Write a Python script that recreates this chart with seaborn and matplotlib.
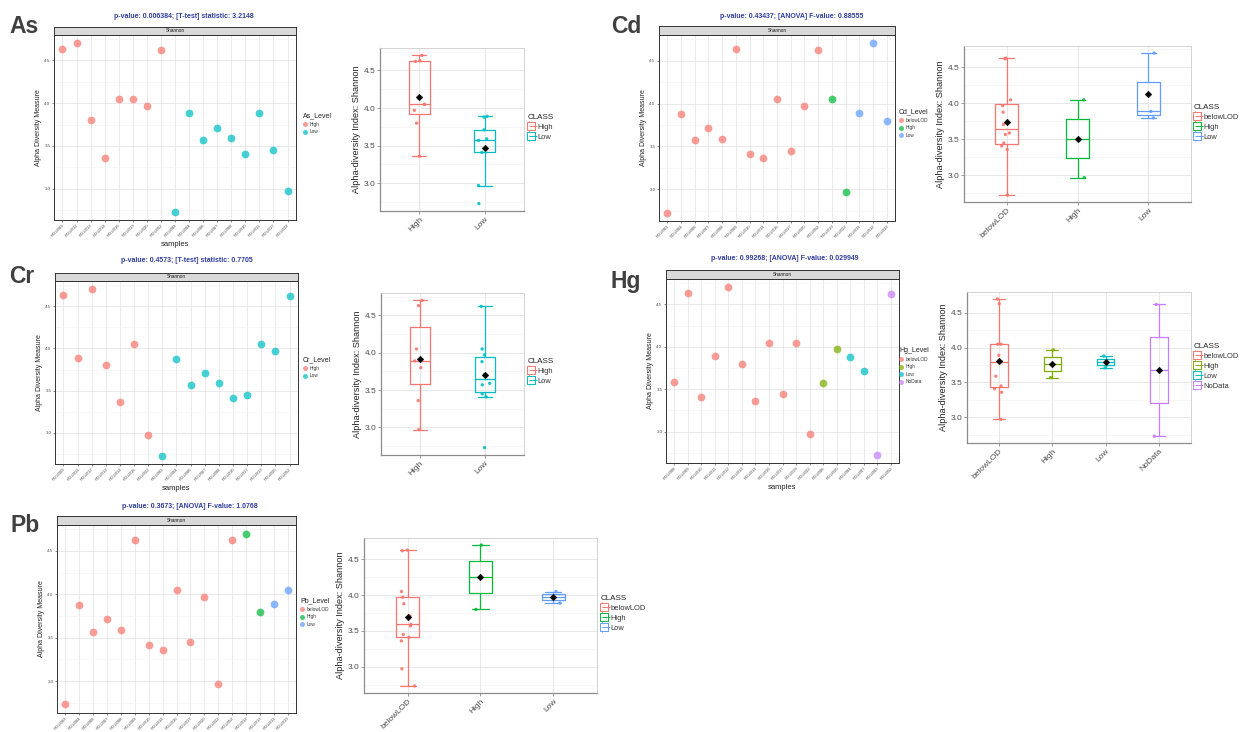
import numpy as np
import pandas as pd
import matplotlib
matplotlib.use("Agg")
import matplotlib.pyplot as plt
from matplotlib.lines import Line2D
from matplotlib.legend_handler import HandlerTuple
from matplotlib.ticker import FixedLocator
import seaborn as sns

sns.set_theme(style="whitegrid")
plt.rcParams["font.family"] = ["Liberation Sans", "DejaVu Sans"]

# ---------------- data ----------------
samples = ["RGU003", "RGU004", "RGU006", "RGU007", "RGU008", "RGU009", "RGU010",
           "RGU011", "RGU012", "RGU013", "RGU014", "RGU016", "RGU017", "RGU019",
           "RGU020", "RGU022", "RGU052"]
shannon = [2.73, 3.88, 3.57, 3.71, 3.59, 4.63, 3.41, 3.89, 4.70, 3.80,
           3.36, 4.05, 3.45, 4.05, 3.97, 2.97, 4.62]

as_level = ["Low", "Low", "Low", "Low", "Low", "High", "Low", "Low", "High", "High",
            "High", "High", "Low", "High", "High", "Low", "High"]
cd_level = ["belowLOD", "belowLOD", "belowLOD", "belowLOD", "belowLOD", "belowLOD",
            "belowLOD", "Low", "Low", "Low", "belowLOD", "belowLOD", "belowLOD",
            "High", "belowLOD", "High", "belowLOD"]
cr_level = ["Low", "Low", "Low", "Low", "Low", "High", "Low", "High", "High", "High",
            "High", "High", "Low", "Low", "Low", "High", "Low"]
hg_level = ["NoData", "Low", "High", "Low", "belowLOD", "belowLOD", "belowLOD",
            "belowLOD", "belowLOD", "belowLOD", "belowLOD", "belowLOD", "belowLOD",
            "belowLOD", "High", "belowLOD", "NoData"]
pb_level = ["belowLOD", "belowLOD", "belowLOD", "belowLOD", "belowLOD", "belowLOD",
            "belowLOD", "Low", "High", "High", "belowLOD", "belowLOD", "belowLOD",
            "Low", "belowLOD", "belowLOD", "belowLOD"]

order2 = ["High", "Low"]
order3 = ["belowLOD", "High", "Low"]
order4 = ["belowLOD", "High", "Low", "NoData"]

pal2 = ["#F8766D", "#00BFC4"]
pal3 = ["#F8766D", "#00BA38", "#619CFF"]
pal4 = ["#F8766D", "#7CAE00", "#00BFC4", "#C77CFF"]

as_title = "p-value: 0.006384; [T-test] statistic: 3.2148"
cd_title = "p-value: 0.43437; [ANOVA] F-value: 0.88555"
cr_title = "p-value: 0.4573; [T-test] statistic: 0.7705"
hg_title = "p-value: 0.99268; [ANOVA] F-value: 0.029949"
pb_title = "p-value: 0.3673; [ANOVA] F-value: 1.0768"

y_ticks = [3.0, 3.5, 4.0, 4.5]
y_minor = [2.75, 3.25, 3.75, 4.25, 4.75]

# ---------------- layout (pixels) ----------------
W, H = 1240, 732
fig = plt.figure(figsize=(W / 100, H / 100), dpi=100)
fig.patch.set_facecolor("white")


def frame(x0, y0, x1, y1):
    return [x0 / W, 1 - y1 / H, (x1 - x0) / W, (y1 - y0) / H]


panels = [
    dict(name="As", levels=as_level, order=order2, pal=pal2, title=as_title,
         lab=(9, 33), ttl=(184, 16), sc=(54, 35, 296, 220), strip=27,
         leg=(303, 112), bx=(380, 48, 524, 211), bleg=(528, 114), xlab=True),
    dict(name="Cd", levels=cd_level, order=order3, pal=pal3, title=cd_title,
         lab=(611, 33), ttl=(792, 16), sc=(659, 35, 895, 221), strip=26,
         leg=(899, 108), bx=(964, 46, 1191, 202), bleg=(1194, 104), xlab=False),
    dict(name="Cr", levels=cr_level, order=order2, pal=pal2, title=cr_title,
         lab=(9, 283), ttl=(187, 261), sc=(55, 281, 298, 464), strip=273,
         leg=(303, 356), bx=(381, 293, 524, 455), bleg=(528, 358), xlab=True),
    dict(name="Hg", levels=hg_level, order=order4, pal=pal4, title=hg_title,
         lab=(610, 288), ttl=(785, 258), sc=(666, 279, 899, 463), strip=270,
         leg=(899, 347), bx=(967, 292, 1191, 443), bleg=(1194, 343), xlab=True),
    dict(name="Pb", levels=pb_level, order=order3, pal=pal3, title=pb_title,
         lab=(11, 532), ttl=(190, 506), sc=(57, 525, 296, 713), strip=516,
         leg=(300, 597), bx=(364, 538, 597, 693), bleg=(601, 595), xlab=False),
]

lo, hi = min(shannon), max(shannon)
pad = (hi - lo) * 0.05
ylim = (lo - pad, hi + pad)

np.random.seed(3)

for p in panels:
    df = pd.DataFrame({"sample": samples, "shannon": shannon, "level": p["levels"]})
    rank = {lv: i for i, lv in enumerate(p["order"])}
    df["rank"] = df["level"].map(rank)
    x_order = df.sort_values("rank", kind="stable")["sample"].tolist()
    colors = dict(zip(p["order"], p["pal"]))

    # --- per-sample scatter ---
    x0, y0, x1, y1 = p["sc"]
    ax = fig.add_axes(frame(x0, y0, x1, y1))
    sns.stripplot(data=df, x="sample", y="shannon", hue="level", order=x_order,
                  hue_order=p["order"], palette=p["pal"], jitter=False, size=5.6,
                  alpha=0.72, linewidth=0, legend=False, ax=ax, zorder=3)
    ax.set_xlim(-0.6, len(x_order) - 0.4)
    ax.set_ylim(*ylim)
    ax.set_facecolor("white")
    ax.yaxis.set_major_locator(FixedLocator(y_ticks))
    ax.yaxis.set_minor_locator(FixedLocator(y_minor))
    ax.set_yticklabels([f"{v:.1f}" for v in y_ticks])
    ax.grid(True, which="major", color="#E6E6E6", lw=0.6)
    ax.grid(True, which="minor", axis="y", color="#F2F2F2", lw=0.4)
    ax.set_axisbelow(True)
    for s in ax.spines.values():
        s.set_color("#333333")
        s.set_linewidth(0.7)
    ax.tick_params(axis="both", which="major", bottom=True, left=True, length=1.5,
                   width=0.4, color="#333333", labelsize=3.2, labelcolor="#4D4D4D", pad=1)
    ax.tick_params(axis="both", which="minor", length=0)
    for lbl in ax.get_xticklabels():
        lbl.set_rotation(45)
        lbl.set_ha("right")
        lbl.set_rotation_mode("anchor")
        lbl.set_fontsize(3.1)
    ax.set_ylabel("Alpha Diversity Measure", fontsize=5, color="#222222", labelpad=2)
    if p["xlab"]:
        ax.set_xlabel("samples", fontsize=5.5, color="#222222", labelpad=2)
    else:
        ax.set_xlabel("")

    # facet strip
    sax = fig.add_axes(frame(x0, p["strip"], x1, y0))
    sax.set_facecolor("#D9D9D9")
    sax.set_xticks([])
    sax.set_yticks([])
    sax.grid(False)
    for s in sax.spines.values():
        s.set_color("#333333")
        s.set_linewidth(0.7)
    sax.text(0.5, 0.5, "Shannon", fontsize=3.4, color="#1A1A1A",
             ha="center", va="center", transform=sax.transAxes)

    # title and element label
    fig.text(p["ttl"][0] / W, 1 - p["ttl"][1] / H, p["title"], fontsize=5.0,
             fontweight="bold", color="#2F3D9C", ha="center", va="center")
    fig.text(p["lab"][0] / W, 1 - p["lab"][1] / H, p["name"], fontsize=16.5,
             fontweight="bold", color="#404040", ha="left", va="baseline")

    # scatter legend
    handles = [Line2D([], [], marker="o", ls="none", markersize=3.6, alpha=0.72,
                      markerfacecolor=colors[lv], markeredgewidth=0) for lv in p["order"]]
    lg = fig.legend(handles, p["order"], title=f"{p['name']}_Level", loc="upper left",
                    bbox_to_anchor=(p["leg"][0] / W, 1 - p["leg"][1] / H),
                    frameon=False, fontsize=3.4, title_fontsize=5, handlelength=1.0,
                    handletextpad=0.4, labelspacing=0.55, borderpad=0, borderaxespad=0,
                    alignment="left")
    lg.get_title().set_color("#222222")
    for t in lg.get_texts():
        t.set_color("#333333")

    # --- box plot by class ---
    bx0, by0, bx1, by1 = p["bx"]
    bax = fig.add_axes(frame(bx0, by0, bx1, by1))
    sns.boxplot(data=df, x="level", y="shannon", hue="level", order=p["order"],
                hue_order=p["order"], palette=p["pal"], fill=False, width=0.32,
                linewidth=0.9, showfliers=False, whis=1.5, capwidths=0.22,
                legend=False, ax=bax)
    sns.stripplot(data=df, x="level", y="shannon", hue="level", order=p["order"],
                  hue_order=p["order"], palette=p["pal"], jitter=0.1, size=2.4,
                  linewidth=0, alpha=0.9, legend=False, ax=bax, zorder=4)
    sns.pointplot(data=df, x="level", y="shannon", order=p["order"], estimator="mean",
                  errorbar=None, color="black", markers="D", linestyles="none",
                  markersize=3.4, markeredgewidth=0.3, ax=bax)
    for ln in bax.lines[-1:]:
        ln.set_zorder(6)
    bax.set_xlim(-0.6, len(p["order"]) - 0.4)
    bax.set_ylim(*ylim)
    bax.set_facecolor("white")
    bax.yaxis.set_major_locator(FixedLocator(y_ticks))
    bax.yaxis.set_minor_locator(FixedLocator(y_minor))
    bax.set_yticklabels([f"{v:.1f}" for v in y_ticks])
    bax.set_xticks(range(len(p["order"])))
    bax.set_xticklabels(p["order"], rotation=45, ha="right", rotation_mode="anchor")
    bax.grid(True, which="major", color="#E3E3E3", lw=0.6)
    bax.grid(True, which="minor", axis="y", color="#F0F0F0", lw=0.4)
    bax.set_axisbelow(True)
    for side in ("top", "right"):
        bax.spines[side].set_color("#CCCCCC")
        bax.spines[side].set_linewidth(0.6)
    for side in ("left", "bottom"):
        bax.spines[side].set_color("#8C8C8C")
        bax.spines[side].set_linewidth(0.9)
    bax.tick_params(axis="both", which="major", bottom=True, left=True, length=2,
                    width=0.5, color="#777777", labelsize=6, labelcolor="#4D4D4D", pad=1.5)
    bax.tick_params(axis="both", which="minor", length=0)
    bax.set_xlabel("")
    bax.set_ylabel("Alpha-diversity Index: Shannon", fontsize=6.6, color="#222222",
                   labelpad=2)

    # box legend
    bh = []
    for lv in p["order"]:
        col = colors[lv]
        bh.append((Line2D([], [], marker="|", ls="none", markersize=7.5, mec=col, mew=0.7),
                   Line2D([], [], marker="s", ls="none", markersize=5.2, mfc="white",
                          mec=col, mew=0.7),
                   Line2D([], [], marker="_", ls="none", markersize=5.2, mec=col, mew=0.7),
                   Line2D([], [], marker="|", ls="none", markersize=5.2, mec=col, mew=0.7)))
    blg = fig.legend(bh, p["order"], title="CLASS", loc="upper left",
                     bbox_to_anchor=(p["bleg"][0] / W, 1 - p["bleg"][1] / H),
                     handler_map={tuple: HandlerTuple(ndivide=None, pad=0)},
                     frameon=False, fontsize=5.4, title_fontsize=5.8, handlelength=1.0,
                     handletextpad=0.3, labelspacing=0.35, borderpad=0, borderaxespad=0,
                     alignment="left")
    blg.get_title().set_color("#222222")
    for t in blg.get_texts():
        t.set_color("#333333")

fig.savefig("out.png", dpi=100, facecolor="white")
